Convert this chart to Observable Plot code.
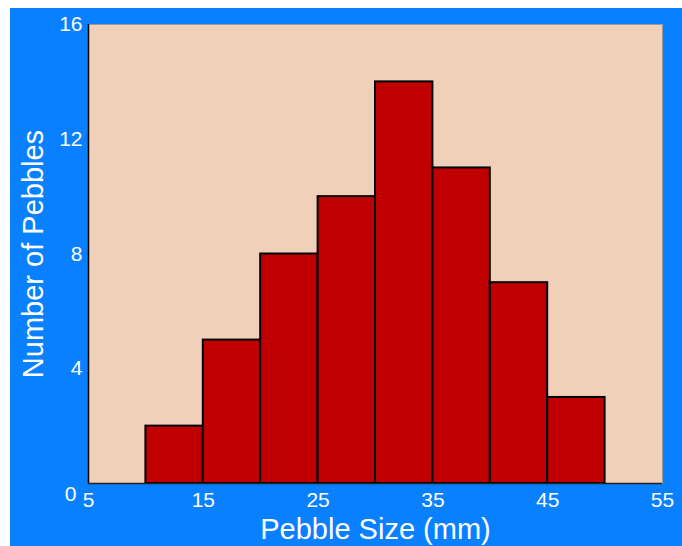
<!DOCTYPE html>
<html>
<head>
<meta charset="utf-8">
<script src="https://cdn.jsdelivr.net/npm/d3@7"></script>
<script src="https://cdn.jsdelivr.net/npm/@observablehq/plot@0.6"></script>
<style>
  html, body { margin: 0; padding: 0; background: #ffffff; }
  #wrap { position: absolute; left: 10px; top: 8px; width: 672px; height: 538px; background: #0880FF; }
  svg { font-family: "Liberation Sans", Arial, sans-serif; }
</style>
</head>
<body>
<div id="wrap"></div>
<script>
const binStarts = [10, 15, 20, 25, 30, 35, 40, 45];
const binWidth = 5;
const counts = [2, 5, 8, 10, 14, 11, 7, 3];
const xTicks = [5, 15, 25, 35, 45, 55];
const yTicks = [4, 8, 12, 16];
const xTitle = "Pebble Size (mm)";
const yTitle = "Number of Pebbles";

const bins = binStarts.map((s, i) => ({x1: s, x2: s + binWidth, count: counts[i]}));

const chart = Plot.plot({
  width: 672,
  height: 538,
  marginLeft: 78,
  marginTop: 16,
  marginRight: 20,
  marginBottom: 63,
  style: {background: "transparent", fontFamily: "'Liberation Sans', Arial, sans-serif", color: "white"},
  x: {domain: [5, 55], ticks: xTicks, label: null},
  y: {domain: [0, 16], ticks: yTicks, label: null},
  marks: [
    Plot.frame({fill: "#F0D0B8", stroke: "#9a9a9a", strokeWidth: 1}),
    Plot.rectY(bins, {x1: "x1", x2: "x2", y: "count", fill: "#C00000", stroke: "black", strokeWidth: 2, inset: 0}),
    Plot.ruleX([5], {stroke: "black", strokeWidth: 1.5}),
    Plot.ruleY([0], {stroke: "#222", strokeWidth: 1.5}),
    Plot.axisX({ticks: xTicks, tickSize: 0, tickPadding: 9, fontSize: 21, fill: "white", label: null}),
    Plot.axisY({ticks: yTicks, tickSize: 0, tickPadding: 6, fontSize: 21, fill: "white", label: null}),
    Plot.text([0], {x: 5, y: d => d, text: d => String(d), textAnchor: "end", dx: -12, dy: 11, fontSize: 21, fill: "white"}),
    Plot.text([xTitle], {x: () => 30, y: () => 0, lineAnchor: "middle", dy: 46, fontSize: 29, fill: "white"}),
    Plot.text([yTitle], {x: () => 5, y: () => 8, lineAnchor: "middle", textAnchor: "middle", dx: -55, rotate: -90, fontSize: 29, fill: "white"})
  ]
});
document.getElementById("wrap").appendChild(chart);
</script>
</body>
</html>
